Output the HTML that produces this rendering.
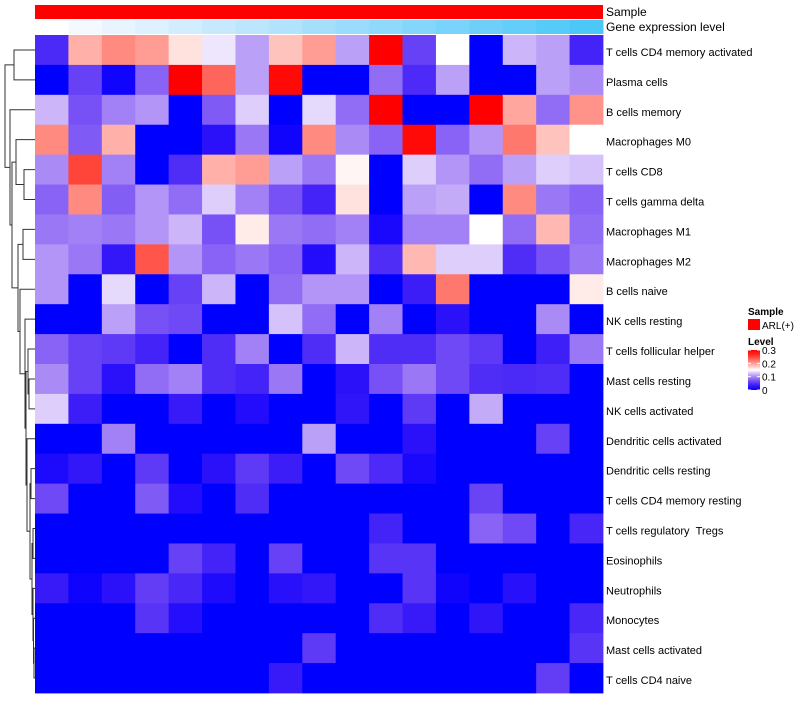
<!DOCTYPE html>
<html><head><meta charset="utf-8"><style>
body{margin:0;background:#fff;font-family:"Liberation Sans",sans-serif}
svg text{font-family:"Liberation Sans",sans-serif}
</style></head><body>
<svg id="chart" width="800" height="700" viewBox="0 0 800 700" xmlns="http://www.w3.org/2000/svg"></svg>
<script>
const rowLabels=["T cells CD4 memory activated","Plasma cells","B cells memory","Macrophages M0","T cells CD8","T cells gamma delta","Macrophages M1","Macrophages M2","B cells naive","NK cells resting","T cells follicular helper","Mast cells resting","NK cells activated","Dendritic cells activated","Dendritic cells resting","T cells CD4 memory resting","T cells regulatory \u00a0Tregs","Eosinophils","Neutrophils","Monocytes","Mast cells activated","T cells CD4 naive"];
const geneLevels=[0,1,2,3,4,5,6,7,8,9,10,11,12,13,14,15,16];
const legendTicks=[0.3,0.2,0.1,0];
const r01=[0.044,0.19,0.21,0.2,0.165,0.14,0.11,0.18,0.2,0.11,0.3,0.06,0.15,0,0.12,0.11,0.04];
const r02=[0,0.06,0.01,0.08,0.3,0.23,0.11,0.29,0,0,0.085,0.045,0.11,0,0,0.11,0.1];
const r03=[0.12,0.07,0.095,0.105,0,0.075,0.13,0,0.135,0.085,0.3,0,0,0.3,0.195,0.085,0.205];
const r04=[0.21,0.075,0.19,0,0,0.025,0.09,0.01,0.21,0.1,0.08,0.29,0.08,0.105,0.22,0.18,0.15];
const r05=[0.1,0.25,0.095,0,0.047,0.19,0.2,0.11,0.09,0.155,0,0.13,0.105,0.085,0.11,0.13,0.125];
const r06=[0.08,0.21,0.077,0.105,0.085,0.13,0.095,0.07,0.04,0.165,0,0.11,0.115,0,0.21,0.09,0.08];
const r07=[0.09,0.095,0.09,0.105,0.12,0.07,0.16,0.09,0.085,0.095,0.015,0.095,0.095,0.15,0.085,0.185,0.085];
const r08=[0.105,0.09,0.03,0.24,0.105,0.08,0.09,0.08,0.02,0.12,0.047,0.185,0.13,0.13,0.047,0.07,0.09];
const r09=[0.105,0,0.135,0,0.06,0.12,0,0.085,0.105,0.105,0,0.035,0.22,0,0,0,0.16];
const r10=[0,0,0.11,0.07,0.065,0,0,0.125,0.085,0,0.095,0,0.025,0,0,0.1,0];
const r11=[0.08,0.06,0.055,0.04,0,0.047,0.095,0,0.047,0.12,0.047,0.047,0.065,0.055,0,0.037,0.09];
const r12=[0.1,0.06,0.025,0.085,0.095,0.047,0.04,0.09,0,0.025,0.07,0.09,0.065,0.047,0.044,0.047,0];
const r13=[0.13,0.035,0,0,0.033,0,0.02,0,0,0.028,0,0.055,0,0.115,0,0,0];
const r14=[0,0,0.095,0,0,0,0,0,0.11,0,0,0.025,0,0,0,0.06,0];
const r15=[0.017,0.03,0,0.055,0,0.025,0.055,0.035,0,0.065,0.045,0.015,0,0,0,0,0];
const r16=[0.065,0,0,0.075,0.02,0,0.047,0,0,0,0,0,0,0.062,0,0,0];
const r17=[0,0,0,0,0,0,0,0,0,0,0.04,0,0,0.08,0.065,0,0.042];
const r18=[0,0,0,0,0.06,0.04,0,0.06,0,0,0.052,0.052,0,0,0,0,0];
const r19=[0.033,0.008,0.025,0.058,0.043,0.018,0,0.024,0.03,0,0,0.052,0.01,0,0.024,0,0];
const r20=[0,0,0,0.052,0.022,0,0,0,0,0,0.047,0.033,0,0.028,0,0,0.043];
const r21=[0,0,0,0,0,0,0,0,0.055,0,0,0,0,0,0,0,0.052];
const r22=[0,0,0,0,0,0,0,0.033,0,0,0,0,0,0,0,0.058,0];
const values=[r01,r02,r03,r04,r05,r06,r07,r08,r09,r10,r11,r12,r13,r14,r15,r16,r17,r18,r19,r20,r21,r22];

const NS="http://www.w3.org/2000/svg";
const svg=document.getElementById('chart');
function mk(tag,attrs,parent){const e=document.createElementNS(NS,tag);for(const k in attrs)e.setAttribute(k,attrs[k]);(parent||svg).appendChild(e);return e;}
const X0=35,X1=603,Y0=35,Y1=693;
const nC=values[0].length,nR=values.length;
const cw=(X1-X0)/nC,rh=(Y1-Y0)/nR;
const xS=c=>X0+c*cw, yS=r=>Y0+r*rh;
function col(v){
  v=Math.max(0,Math.min(0.3,v));
  let R,G,B;
  if(v<=0.15){const f=v/0.15;R=255*f;G=255*Math.pow(f,1.5);B=255-10*Math.sin(Math.PI*f);}
  else{const g=(0.3-v)/0.15;R=255;G=255*Math.pow(g,1.2);B=255*Math.pow(g,1.35);}
  return 'rgb('+Math.round(R)+','+Math.round(G)+','+Math.round(B)+')';
}
const gS=mk('g',{});


mk('rect',{x:X0,y:5,width:X1-X0,height:14,fill:'#ff0000'},gS);
const gG=mk('g',{});


const maxL=Math.max(...geneLevels);
geneLevels.forEach(function(l,i){
  const t=l/maxL;
  const R=255+(76-255)*t,G=255+(200-255)*Math.pow(t,0.8),B=255+(248-255)*t;
  const r=mk('rect',{x:xS(i),y:20,width:cw+0.5,height:14,fill:'rgb('+Math.round(R)+','+Math.round(G)+','+Math.round(B)+')'},gG);
  
  
});
const t1=mk('text',{x:606,y:16,'font-size':12,fill:'#000'});t1.textContent='Sample';


const t2=mk('text',{x:606,y:31,'font-size':12,fill:'#000'});t2.textContent='Gene expression level';


const gH=mk('g',{});


values.forEach(function(row,r){
  row.forEach(function(v,c){
    const e=mk('rect',{x:xS(c),y:yS(r),width:cw+0.4,height:rh+0.4,fill:col(v)},gH);
    
    
  });
  const t=mk('text',{x:606,y:yS(r)+rh/2+6,'font-size':11,fill:'#000'});
  t.textContent=rowLabels[r];
  
  
});
const tree={x:5,c:[{x:14,c:[0,1]},{x:10,c:[2,{x:12,c:[{x:16,c:[3,{x:24,c:[4,5]}]},{x:18,c:[{x:23,c:[6,7]},{x:20,c:[8,{x:25,c:[9,{x:26,c:[{x:28,c:[10,{x:29,c:[11,12]}]},{x:27,c:[13,{x:30,c:[{x:31,c:[14,15]},{x:32,c:[{x:33,c:[16,17]},{x:33,c:[18,{x:33.5,c:[19,{x:34,c:[20,21]}]}]}]}]}]}]}]}]}]}]}]}]};
const gD=mk('g',{stroke:'#333','stroke-width':1,fill:'none'});


function draw(n){
  if(typeof n==='number')return {x:35,y:yS(n)+rh/2};
  const a=draw(n.c[0]),b=draw(n.c[1]);
  mk('path',{d:'M'+a.x+','+a.y+'H'+n.x+'V'+b.y+'H'+b.x},gD);
  return {x:n.x,y:(a.y+b.y)/2};
}
draw(tree);
const gL=mk('g',{});


const lt=mk('text',{x:748,y:315,'font-size':10,'font-weight':'bold'},gL);lt.textContent='Sample';
mk('rect',{x:748,y:319,width:12,height:11,fill:'#ff0000'},gL);
const la=mk('text',{x:762,y:329,'font-size':10},gL);la.textContent='ARL(+)';


const lv=mk('text',{x:748,y:345,'font-size':10,'font-weight':'bold'},gL);lv.textContent='Level';
const defs=mk('defs',{});
const lg=mk('linearGradient',{id:'lg',x1:0,y1:1,x2:0,y2:0},defs);
for(let i=0;i<=10;i++)mk('stop',{offset:i/10,'stop-color':col(0.03*i)},lg);
const yTop=350,yBot=390,vMax=0.3;
const lyS=function(v){return yBot-(v/vMax)*(yBot-yTop);};
mk('rect',{x:748,y:yTop,width:12,height:yBot-yTop,fill:'url(#lg)'},gL);
legendTicks.forEach(function(v){
  mk('line',{x1:748,x2:751,y1:lyS(v),y2:lyS(v),stroke:'#fff'},gL);
  mk('line',{x1:757,x2:760,y1:lyS(v),y2:lyS(v),stroke:'#fff'},gL);
  const t=mk('text',{x:762,y:lyS(v)+4,'font-size':10},gL);t.textContent=String(v);
  
  
});
</script>
</body></html>
